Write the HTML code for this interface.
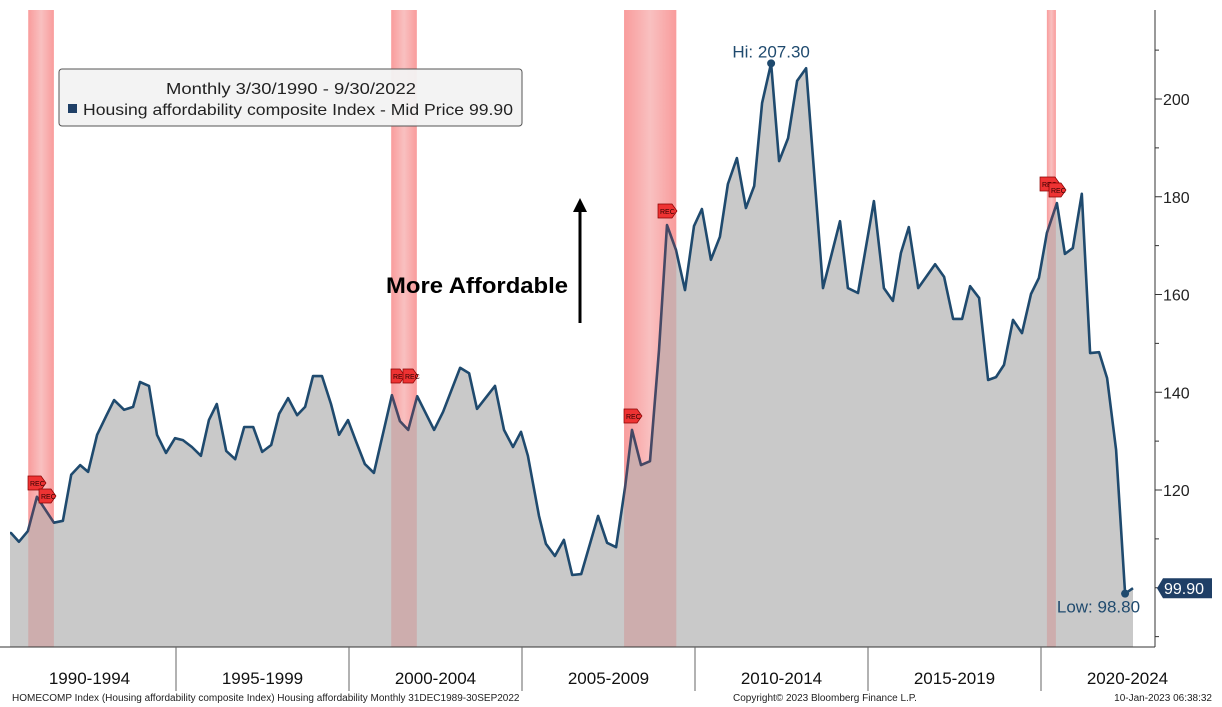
<!DOCTYPE html>
<html><head><meta charset="utf-8">
<style>
html,body{margin:0;padding:0;background:#fff;}
svg{display:block;font-family:"Liberation Sans",sans-serif;}
</style></head>
<body>
<svg id="chart" width="1222" height="707" viewBox="0 0 1222 707" xmlns="http://www.w3.org/2000/svg">
<defs>
<linearGradient id="recg" x1="0" x2="1" y1="0" y2="0">
<stop offset="0" stop-color="#ff9a9a" stop-opacity="0.75"/>
<stop offset="0.5" stop-color="#ffd6d6" stop-opacity="0.75"/>
<stop offset="1" stop-color="#ff9a9a" stop-opacity="0.75"/>
</linearGradient>
</defs>
<g id="bands-back"></g>
<g id="series"></g>
<g id="bands-front"></g>
<g id="axes"></g>
<g id="annot"></g>
</svg>
<script>
const dates=[1990.23,1990.46,1990.72,1990.98,1991.47,1991.73,1991.97,1992.23,1992.46,1992.72,1992.98,1993.21,1993.50,1993.76,1993.96,1994.22,1994.45,1994.71,1994.97,1995.20,1995.46,1995.72,1995.95,1996.18,1996.45,1996.71,1996.97,1997.23,1997.49,1997.75,1997.98,1998.24,1998.50,1998.73,1998.96,1999.22,1999.48,1999.71,1999.97,2000.20,2000.46,2000.72,2001.24,2001.47,2001.71,2001.97,2002.46,2002.72,2003.21,2003.47,2003.70,2004.22,2004.48,2004.74,2004.97,2005.17,2005.49,2005.69,2005.95,2006.21,2006.45,2006.71,2007.20,2007.46,2007.72,2007.98,2008.18,2008.44,2008.70,2008.96,2009.19,2009.45,2009.71,2009.97,2010.20,2010.46,2010.72,2010.95,2011.21,2011.47,2011.71,2011.94,2012.20,2012.43,2012.69,2012.95,2013.21,2013.70,2014.19,2014.42,2014.71,2015.17,2015.46,2015.72,2015.95,2016.18,2016.45,2016.94,2017.20,2017.46,2017.72,2017.95,2018.21,2018.47,2018.70,2018.93,2019.19,2019.45,2019.71,2019.94,2020.17,2020.46,2020.69,2020.92,2021.18,2021.42,2021.68,2021.91,2022.17,2022.43,2022.66];
const values=[111.2,109.4,111.6,118.6,113.3,113.7,123.1,125.1,123.7,131.3,135.1,138.4,136.4,137.0,142.1,141.3,131.3,127.6,130.6,130.2,128.8,127.0,134.3,137.6,128.0,126.3,132.9,132.9,127.8,129.2,135.6,138.8,135.3,137.0,143.3,143.3,137.6,131.3,134.3,130.0,125.3,123.5,139.4,134.1,132.3,139.2,132.3,136.0,145.0,143.9,136.6,141.3,132.3,128.8,131.9,127.0,114.7,109.0,106.5,109.8,102.6,102.8,114.7,109.2,108.3,120.6,132.3,125.1,125.9,148.6,174.2,169.1,160.9,174.0,177.5,167.1,171.8,182.6,187.9,177.7,182.2,199.2,207.3,187.3,192.0,203.7,206.3,161.3,175.0,161.3,160.3,179.1,161.3,158.7,168.5,173.8,161.3,166.2,163.6,155.0,155.0,161.7,159.3,142.5,143.1,145.6,154.8,152.1,160.1,163.4,172.6,178.7,168.3,169.5,180.6,148.0,148.2,142.9,128.2,98.8,99.9];
const yTicks=[120,140,160,180,200];
const periodLabels=["1990-1994","1995-1999","2000-2004","2005-2009","2010-2014","2015-2019","2020-2024"];
const periodStarts=[1990,1995,2000,2005,2010,2015,2020];
const recStarts=[1990.73,2001.22,2007.95,2020.17];
const recEnds=[1991.47,2001.96,2009.46,2020.43];

const NS="http://www.w3.org/2000/svg";
const X0=10,X1=1155,Y0=10,Y1=647;
const xs=t=>3+(t-1990)*34.6;
const ys=v=>99+(200-v)*4.8875;
function mk(tag,attrs,parent){const e=document.createElementNS(NS,tag);for(const k in attrs)e.setAttribute(k,attrs[k]);parent.appendChild(e);return e;}
const back=document.getElementById('bands-back'),front=document.getElementById('bands-front'),ser=document.getElementById('series'),ax=document.getElementById('axes'),an=document.getElementById('annot');

recStarts.forEach((s,i)=>{
  const r=mk('rect',{x:xs(s),y:Y0,width:xs(recEnds[i])-xs(s),height:Y1-Y0,fill:'url(#recg)'},back);
  
  
  const r2=mk('rect',{x:xs(s),y:Y0,width:xs(recEnds[i])-xs(s),height:Y1-Y0,fill:'#e04040',opacity:0.2},front);
  
  
});

let pts=dates.map((d,i)=>[xs(d),ys(values[i])]);
let lineD='M'+pts.map(p=>p[0].toFixed(1)+','+p[1].toFixed(1)).join('L');
let areaD='M'+X0+','+Y1+'L'+X0+','+pts[0][1].toFixed(1)+'L'+pts.map(p=>p[0].toFixed(1)+','+p[1].toFixed(1)).join('L')+'L'+pts[pts.length-1][0].toFixed(1)+','+Y1+'Z';
const area=mk('path',{d:areaD,fill:'#c9c9c9'},ser);


const line=mk('path',{d:'M'+X0+','+pts[0][1].toFixed(1)+lineD.replace('M','L'),fill:'none',stroke:'#1f4a6e','stroke-width':2.6,'stroke-linejoin':'round'},ser);



const yl=mk('line',{x1:X1,y1:Y0,x2:X1,y2:Y1,stroke:'#333','stroke-width':1},ax);


for(let v=90;v<=215;v+=10){mk('line',{x1:X1,y1:ys(v),x2:X1+(v%20===0?7:4),y2:ys(v),stroke:'#333'},ax);}
yTicks.forEach(v=>{
  const t=mk('text',{x:X1+8,y:ys(v)+6,'font-size':16,fill:'#222'},ax);t.textContent=v;
  
  
});
const xl=mk('line',{x1:0,y1:Y1,x2:X1,y2:Y1,stroke:'#333'},ax);


periodStarts.forEach((p,i)=>{
  if(i>0){mk('line',{x1:xs(p),y1:Y1,x2:xs(p),y2:691,stroke:'#666'},ax);}
  const t=mk('text',{x:xs(p+2.5),y:684,'font-size':17,fill:'#111','text-anchor':'middle'},ax);t.textContent=periodLabels[i];
  
  
});

function rec(x,y,w){const g=mk('g',{},an);mk('polygon',{points:`${x},${y} ${x+w-5},${y} ${x+w},${y+7} ${x+w-5},${y+14} ${x},${y+14}`,fill:'#ee3333',stroke:'#800','stroke-width':0.7},g);const t=mk('text',{x:x+2,y:y+10,'font-size':7,fill:'#300'},g);t.textContent='REC';

}
rec(28,476,18);rec(39,489,17);rec(391,369,14);rec(403,369,15);rec(624,409,18);rec(658,204,19);rec(1040,177,20);rec(1049,183,17);

const imax=values.indexOf(Math.max(...values)),imin=values.indexOf(Math.min(...values));
mk('circle',{cx:pts[imax][0],cy:pts[imax][1],r:4,fill:'#1f4a6e'},an);
const hi=mk('text',{x:pts[imax][0],y:pts[imax][1]-6,'font-size':17,fill:'#1f4a6e','text-anchor':'middle'},an);hi.textContent='Hi: '+values[imax].toFixed(2);


mk('circle',{cx:pts[imin][0],cy:pts[imin][1],r:4,fill:'#1f4a6e'},an);
const lo=mk('text',{x:pts[imin][0]+15,y:pts[imin][1]+19,'font-size':17,fill:'#1f4a6e','text-anchor':'end'},an);lo.textContent='Low: '+values[imin].toFixed(2);


const last=values[values.length-1],ly=ys(last);
const badge=mk('g',{},an);


mk('polygon',{points:`1157,${ly} 1163,${ly-10} 1212,${ly-10} 1212,${ly+10} 1163,${ly+10}`,fill:'#1f3f66'},badge);
const bt=mk('text',{x:1164,y:ly+6,'font-size':16,fill:'#fff'},badge);bt.textContent=last.toFixed(2);
</script>
<svg style="position:absolute;left:0;top:0" width="1222" height="707">
<g>
<rect x="59" y="69" width="463" height="57" rx="3" fill="#f2f2f2" fill-opacity="0.95" stroke="#555"/>
<text x="166" y="94" font-size="16" fill="#222" textLength="250" lengthAdjust="spacingAndGlyphs" font-family="Liberation Sans,sans-serif">Monthly 3/30/1990 - 9/30/2022</text>
<rect x="68" y="104" width="9" height="9" fill="#1f3f66"/>
<text x="83" y="115" font-size="16" fill="#222" textLength="430" lengthAdjust="spacingAndGlyphs" font-family="Liberation Sans,sans-serif">Housing affordability composite Index - Mid Price 99.90</text>
</g>
<g>
<text x="386" y="293" font-size="22" font-weight="bold" fill="#000" textLength="182" lengthAdjust="spacingAndGlyphs" font-family="Liberation Sans,sans-serif">More Affordable</text>
<line x1="580" y1="323" x2="580" y2="210" stroke="#000" stroke-width="3"/>
<polygon points="573,212 587,212 580,198" fill="#000"/>
</g>
<text x="12" y="701" font-size="10" fill="#222" font-family="Liberation Sans,sans-serif">HOMECOMP Index (Housing affordability composite Index) Housing affordability  Monthly 31DEC1989-30SEP2022</text>
<text x="733" y="701" font-size="10" fill="#222" font-family="Liberation Sans,sans-serif">Copyright© 2023 Bloomberg Finance L.P.</text>
<text x="1212" y="701" font-size="10" fill="#222" text-anchor="end" font-family="Liberation Sans,sans-serif">10-Jan-2023 06:38:32</text>
</svg>
</body></html>
